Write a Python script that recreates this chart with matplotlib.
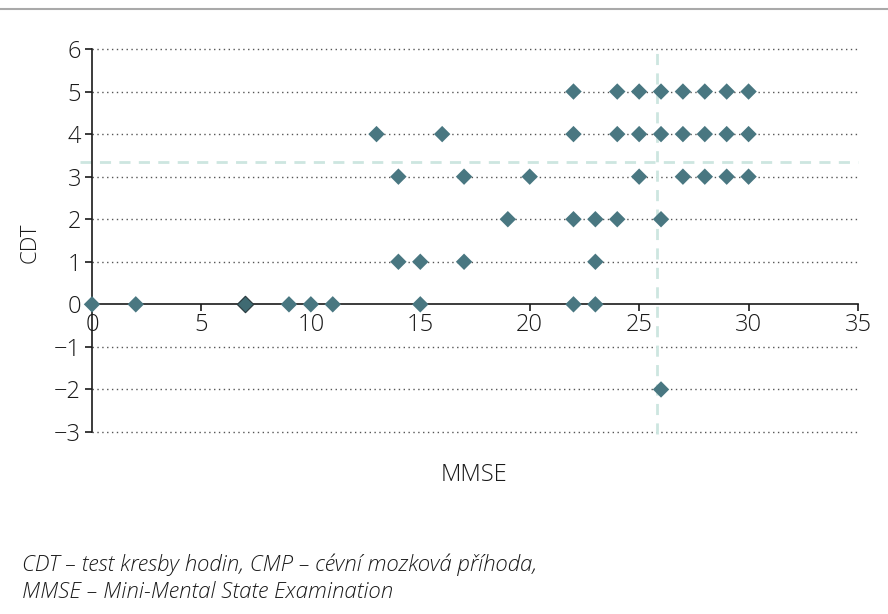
import matplotlib
matplotlib.use("Agg")
import matplotlib.pyplot as plt
from matplotlib.lines import Line2D

plt.rcParams['font.family'] = ['Open Sans', 'DejaVu Sans']

# MMSE (x) values for each CDT (y) level
cdt_levels = [5, 4, 3, 2, 1, 0, -2]
mmse_by_cdt = {
    5: [22, 24, 25, 26, 27, 28, 29, 30],
    4: [13, 16, 22, 24, 25, 26, 27, 28, 29, 30],
    3: [14, 17, 20, 25, 27, 28, 29, 30],
    2: [19, 22, 23, 24, 26],
    1: [14, 15, 17, 23],
    0: [0, 2, 7, 9, 10, 11, 15, 22, 23],
    -2: [26],
}
cutoff_mmse = 25.8
cutoff_cdt = 3.35
x_ticks = [0, 5, 10, 15, 20, 25, 30, 35]
y_ticks = [-3, -2, -1, 0, 1, 2, 3, 4, 5, 6]
footnote = ("CDT \u2013 test kresby hodin, CMP \u2013 cévní mozková příhoda,\n"
            "MMSE \u2013 Mini-Mental State Examination")

marker_color = "#497781"
dash_color = "#cde6e0"
text_color = "#1a1a1a"

fig = plt.figure(figsize=(8.88, 6.14), dpi=100)
ax = fig.add_axes([92 / 888, 1 - 432 / 614, (858 - 92) / 888, (432 - 49) / 614])

# top rule
fig.add_artist(Line2D([0, 1], [1 - 9 / 614, 1 - 9 / 614], color="#a9a9a9", lw=1.5))

ax.set_xlim(0, 35)
ax.set_ylim(-3, 6)

for y in y_ticks:
    if y != 0:
        ax.plot([0, 35], [y, y], color="#555555", lw=1.0, ls=(0, (1, 2.5)), zorder=1,
                clip_on=False)

# cutoff lines
ax.plot([cutoff_mmse, cutoff_mmse], [-3.05, 6], color=dash_color, lw=2, ls=(0, (4, 3)),
        zorder=2, clip_on=False)
ax.plot([-0.55, 35], [cutoff_cdt, cutoff_cdt], color=dash_color, lw=2, ls=(0, (4, 3)),
        zorder=2, clip_on=False)

for cdt in cdt_levels:
    xs = mmse_by_cdt[cdt]
    ax.scatter(xs, [cdt] * len(xs), marker="D", s=70, color=marker_color,
               edgecolors="none", zorder=4, clip_on=False)
# overlapping points at MMSE 7, CDT 0
ax.scatter([7], [0], marker="D", s=70, color="#3f6a72", edgecolors="#2a3a3e",
           linewidths=0.8, zorder=5)

for s in ["top", "right"]:
    ax.spines[s].set_visible(False)
ax.spines["bottom"].set_position(("data", 0))
ax.spines["left"].set_color(text_color)
ax.spines["bottom"].set_color(text_color)
ax.spines["left"].set_linewidth(1.2)
ax.spines["bottom"].set_linewidth(1.2)

ax.set_xticks(x_ticks)
ax.set_yticks(y_ticks)
ax.set_yticklabels([str(v).replace("-", "\u2212") for v in y_ticks])
ax.tick_params(axis="both", direction="out", length=5, width=1.2, color=text_color,
               labelsize=17, labelcolor=text_color)
ax.tick_params(axis="x", pad=1)
ax.tick_params(axis="y", pad=3)
for lab in ax.get_xticklabels() + ax.get_yticklabels():
    lab.set_fontweight("light")

fig.text(474 / 888, 1 - 475 / 614, "MMSE", ha="center", va="center", fontsize=17,
         color=text_color, fontweight="light")
fig.text(30 / 888, 1 - 243 / 614, "CDT", ha="center", va="center", fontsize=16,
         rotation=90, color=text_color, fontweight="light")
fig.text(22 / 888, 1 - 578 / 614, footnote, ha="left", va="center", fontsize=16,
         style="italic", color=text_color, fontweight="light", linespacing=1.3)

fig.savefig("out.png", dpi=100)
